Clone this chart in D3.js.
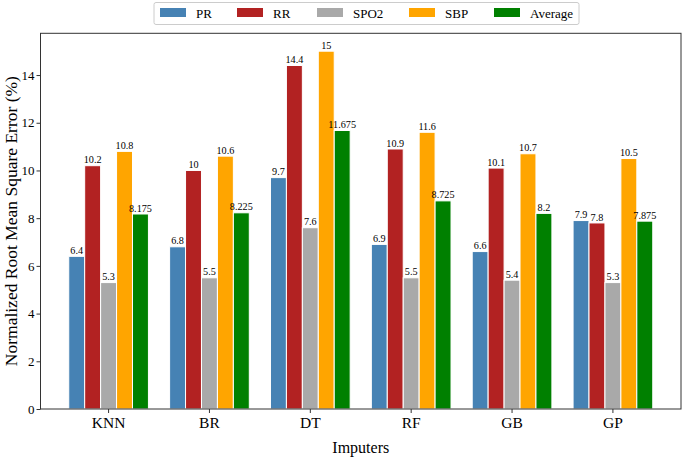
<!DOCTYPE html>
<html>
<head>
<meta charset="utf-8">
<script src="https://cdn.jsdelivr.net/npm/d3@7"></script>
<style>
  html, body { margin: 0; padding: 0; background: #fff; }
  svg { display: block; font-family: "Liberation Serif", "Times New Roman", serif; }
</style>
</head>
<body>
<svg id="chart" width="685" height="457"></svg>
<script>
const categories = ["KNN", "BR", "DT", "RF", "GB", "GP"];
const seriesNames = ["PR", "RR", "SPO2", "SBP", "Average"];
const seriesColors = ["#4682b4", "#b22222", "#a9a9a9", "#ffa500", "#008000"];
const PR = [6.4, 6.8, 9.7, 6.9, 6.6, 7.9];
const RR = [10.2, 10, 14.4, 10.9, 10.1, 7.8];
const SPO2 = [5.3, 5.5, 7.6, 5.5, 5.4, 5.3];
const SBP = [10.8, 10.6, 15, 11.6, 10.7, 10.5];
const Average = [8.175, 8.225, 11.675, 8.725, 8.2, 7.875];
const seriesValues = [PR, RR, SPO2, SBP, Average];
const yTicks = [0, 2, 4, 6, 8, 10, 12, 14];

const svg = d3.select("#chart");
const mLeft = 40.5, mRight = 681, mTop = 33.3, mBottom = 409;

const x0 = d3.scaleBand().domain(categories).range([mLeft, mRight])
  .paddingInner(0.21).paddingOuter(0.28);
const x1 = d3.scaleBand().domain(seriesNames).range([0, x0.bandwidth()]).padding(0);
const y = d3.scaleLinear().domain([0, 15.75]).range([mBottom, mTop]);

// bars
const groups = svg.append("g").selectAll("g")
  .data(categories).join("g")
  .attr("transform", d => `translate(${x0(d)},0)`);

groups.each(function(cat, ci) {
  const g = d3.select(this);
  seriesNames.forEach((s, si) => {
    const v = seriesValues[si][ci];
    g.append("rect")
      .attr("x", x1(s))
      .attr("y", y(v))
      .attr("width", x1.bandwidth())
      .attr("height", y(0) - y(v))
      .attr("fill", seriesColors[si])
      .attr("stroke", "#fff")
      .attr("stroke-width", 1);
    g.append("text")
      .attr("x", x1(s) + x1.bandwidth() / 2)
      .attr("y", y(v) - 2.4)
      .attr("text-anchor", "middle")
      .attr("font-size", 10.2)
      .attr("fill", "#000")
      .text(String(v));
  });
});

// frame
svg.append("rect").attr("x", mLeft).attr("y", mTop)
  .attr("width", mRight - mLeft).attr("height", mBottom - mTop)
  .attr("fill", "none").attr("stroke", "#333").attr("stroke-width", 1);

// y axis
const yAxis = svg.append("g").attr("transform", `translate(${mLeft},0)`)
  .call(d3.axisLeft(y).tickValues(yTicks).tickSize(4).tickPadding(2).tickFormat(d3.format("d")));
yAxis.select(".domain").remove();
yAxis.selectAll("line").attr("stroke", "#333");
yAxis.selectAll("text").attr("font-size", 13).attr("font-family", "Liberation Serif, serif").attr("fill", "#000");

// x axis
const xAxis = svg.append("g").attr("transform", `translate(0,${mBottom})`)
  .call(d3.axisBottom(x0).tickSize(4).tickPadding(4));
xAxis.select(".domain").remove();
xAxis.selectAll("line").attr("stroke", "#333");
xAxis.selectAll("text").attr("font-size", 15.5).attr("font-family", "Liberation Serif, serif").attr("fill", "#000");

// axis titles
svg.append("text")
  .attr("x", (mLeft + mRight) / 2).attr("y", 453.3)
  .attr("text-anchor", "middle").attr("font-size", 16)
  .text("Imputers");
svg.append("text")
  .attr("transform", `translate(16.5,${(mTop + mBottom) / 2}) rotate(-90)`)
  .attr("text-anchor", "middle").attr("font-size", 17.5)
  .text("Normalized Root Mean Square Error (%)");

// legend
const legend = svg.append("g");
legend.append("rect").attr("x", 154).attr("y", 2.5).attr("width", 425).attr("height", 22)
  .attr("rx", 2).attr("fill", "#fff").attr("stroke", "#ccc").attr("stroke-width", 1);
const legX = [160, 237, 317, 409, 494];
seriesNames.forEach((s, i) => {
  legend.append("rect").attr("x", legX[i]).attr("y", 8).attr("width", 26).attr("height", 9)
    .attr("fill", seriesColors[i]);
  legend.append("text").attr("x", legX[i] + 36).attr("y", 17.5)
    .attr("font-size", 13).text(s);
});
</script>
</body>
</html>
